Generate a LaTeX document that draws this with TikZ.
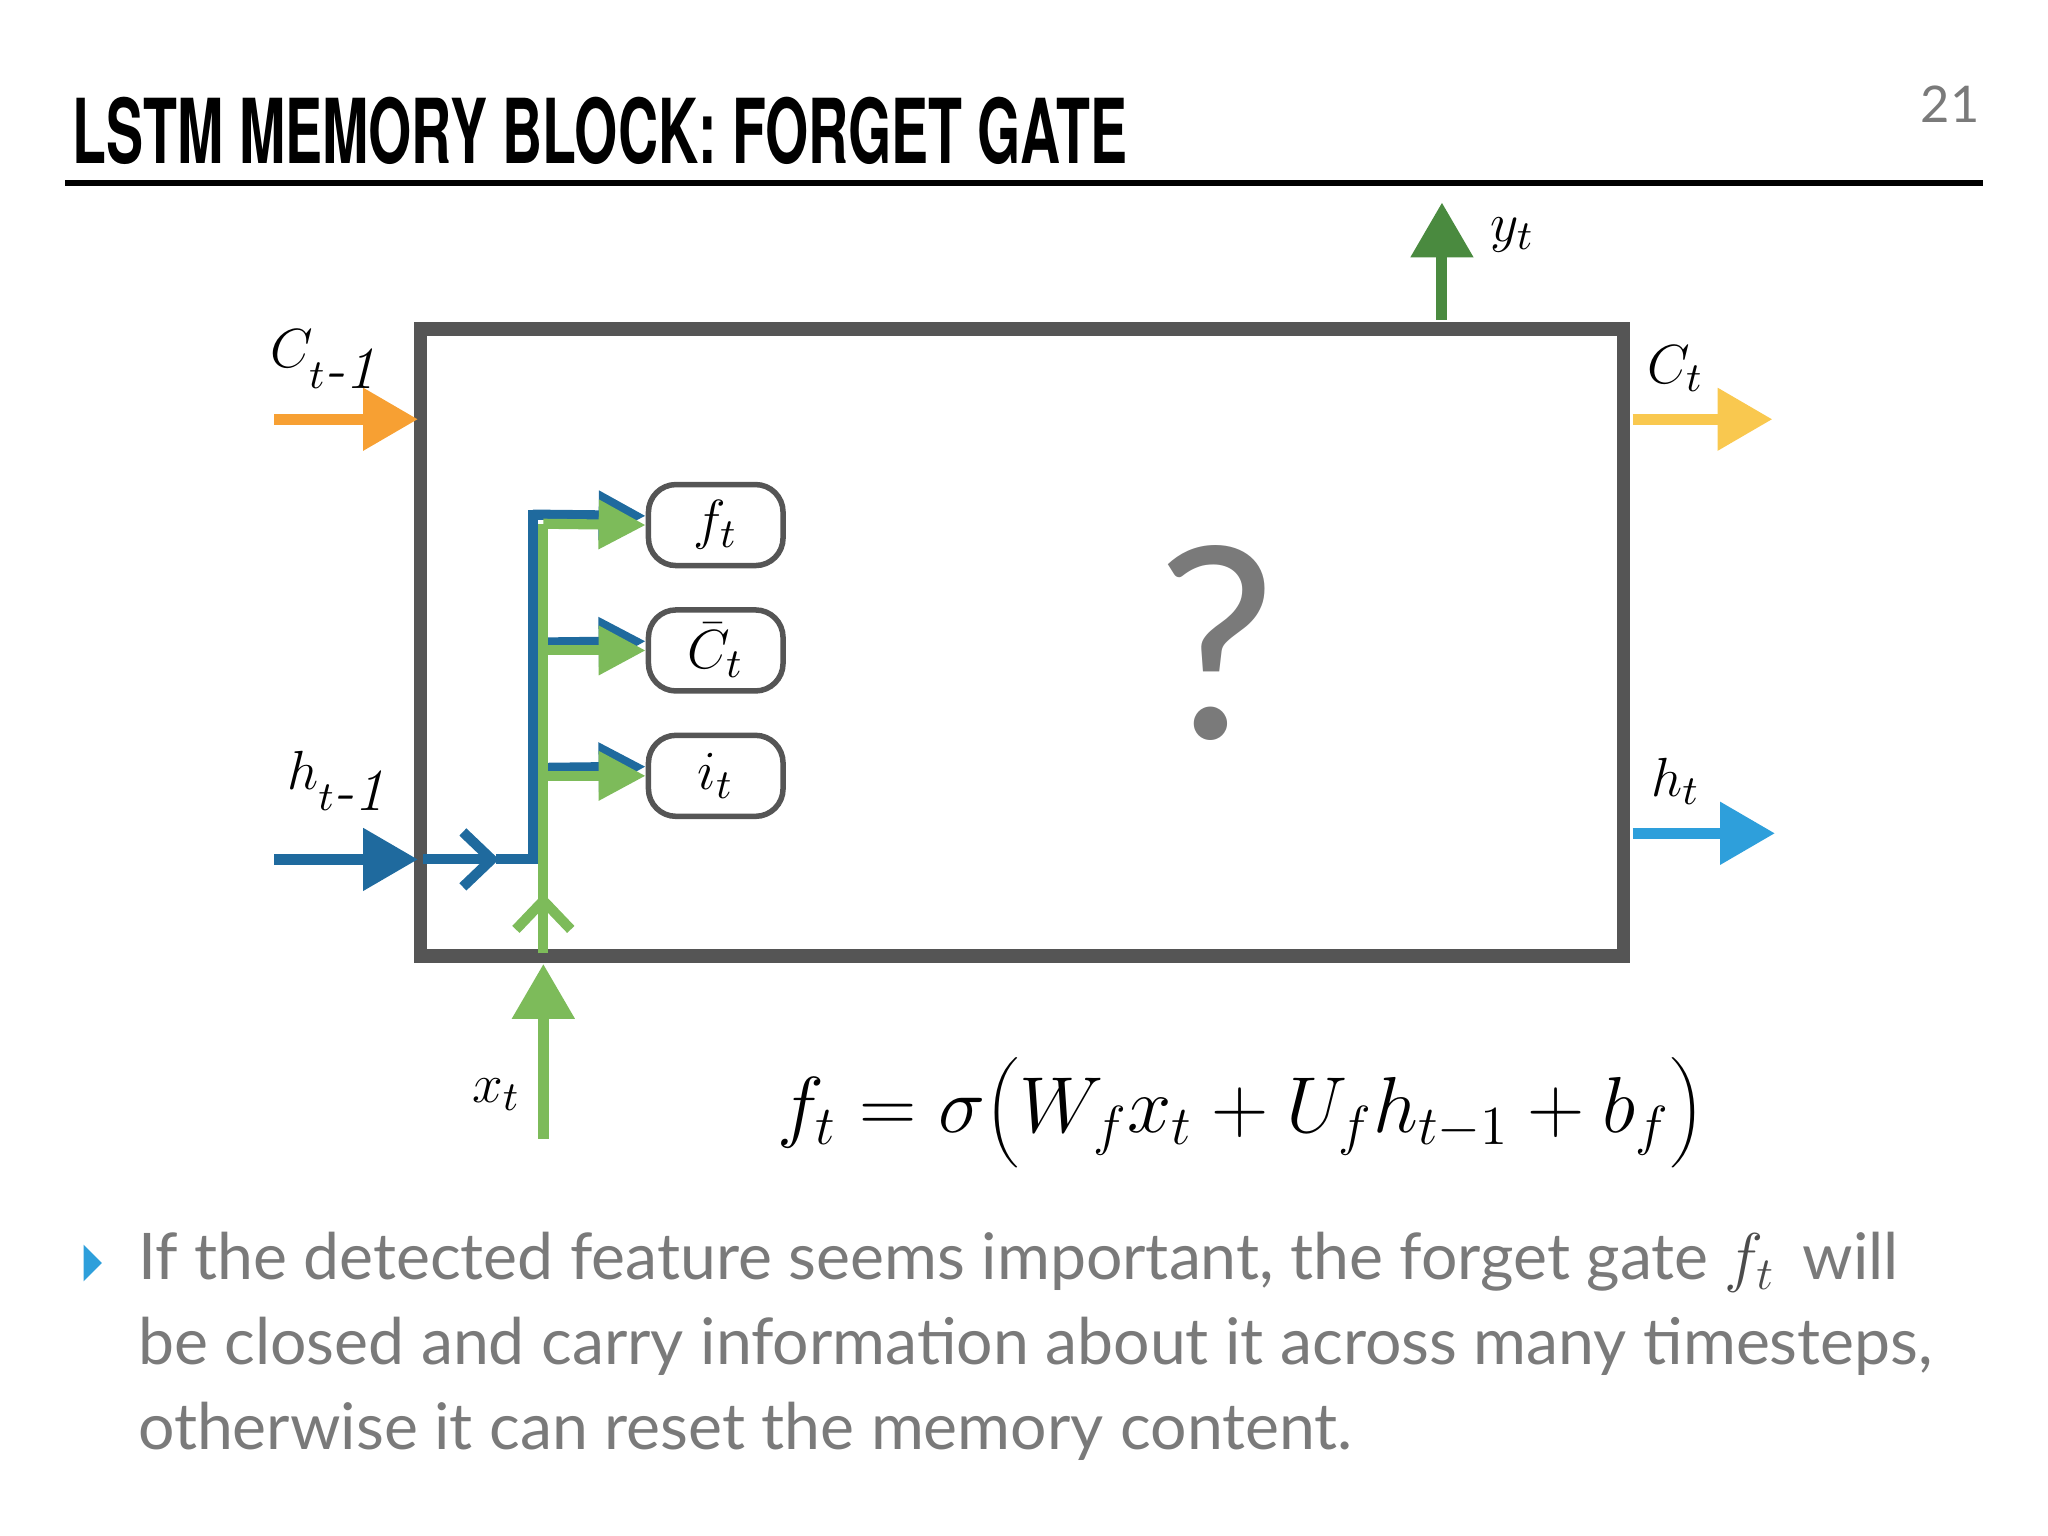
\documentclass[tikz,border=0pt]{standalone}
\usepackage{fontspec}
\newfontfamily\bodyfont{Lato}
\newfontfamily\titlefont{TeX Gyre Heros}[FakeStretch=0.62]
\usetikzlibrary{arrows.meta}
\definecolor{boxgray}{HTML}{555555}
\definecolor{txtgray}{HTML}{7A7A7A}
\definecolor{corange}{HTML}{F7A033}
\definecolor{cyellow}{HTML}{F9C84F}
\definecolor{cdblue}{HTML}{1F6A9E}
\definecolor{clblue}{HTML}{2E9FDB}
\definecolor{cgreen}{HTML}{7DBB5A}
\definecolor{cdgreen}{HTML}{4A8A3F}
\tikzset{
  flow/.style={line width=2.4pt,-{Triangle[length=0.42cm,width=0.46cm]}},
  inner/.style={line width=2.2pt,-{Triangle[length=0.36cm,width=0.36cm]}},
  barb/.style={line width=2.2pt,-{Straight Barb[length=0.22cm,width=0.42cm,line width=2.2pt]}},
  gate/.style={draw=boxgray,line width=1.2pt,rounded corners=6pt,minimum width=1.03cm,minimum height=0.62cm,inner sep=1pt,font=\fontsize{13}{13}\selectfont},
  lbl/.style={font=\fontsize{13}{13}\selectfont},
}
\begin{document}
\begin{tikzpicture}[x=0.01cm,y=-0.01cm]
    \useasboundingbox (0,0) rectangle (1568,1176);
    % title
    \node [anchor=base west,inner sep=0] (title) at (55,125)
        {\titlefont\bfseries\fontsize{19.5}{19.5}\selectfont LSTM MEMORY BLOCK: FORGET GATE};
    \draw [line width=1.3pt] (50,140) -- (1518,140);
    \node [text=txtgray,font=\bodyfont\fontsize{11}{11}\selectfont] (page) at (1493,80) {21};
    % memory block
    \draw [boxgray,line width=3pt] (322,252) rectangle (1243,732);
    \node [text=txtgray,font=\bodyfont\fontsize{58}{58}\selectfont] (ask) at (932,492) {?};
    % gates
    \node [gate] (ft) at (548,402) {$f_t$};
    \node [gate] (ct) at (548,498) {$\bar{C}_t$};
    \node [gate] (it) at (548,594) {$i_t$};
    % outer ports
    \coordinate (cin)  at (210,321);  \coordinate (cinb)  at (320,321);
    \coordinate (cout) at (1250,321); \coordinate (coutb) at (1357,321);
    \coordinate (hin)  at (210,658);  \coordinate (hinb)  at (320,658);
    \coordinate (hout) at (1250,638); \coordinate (houtb) at (1359,638);
    \coordinate (yin)  at (1104,245); \coordinate (youtb) at (1104,155);
    \coordinate (xin)  at (416,872);  \coordinate (xinb)  at (416,738);
    \draw [flow,corange] (cin) -- (cinb);
    \draw [flow,cyellow] (cout) -- (coutb);
    \draw [flow,cdblue] (hin) -- (hinb);
    \draw [flow,clblue] (hout) -- (houtb);
    \draw [flow,cdgreen] (yin) -- (youtb);
    \draw [flow,cgreen] (xin) -- (xinb);
    \node [lbl] (lcin) at (248,275) {$C_{t\textit{-1}}$};
    \node [lbl] (lcout) at (1283,282) {$C_t$};
    \node [lbl] (lhin) at (258,598) {$h_{t\textit{-1}}$};
    \node [lbl] (lhout) at (1283,598) {$h_t$};
    \node [lbl] (ly) at (1158,180) {$y_t$};
    \node [lbl] (lx) at (380,838) {$x_t$};
    % inner wiring
    \coordinate (hjoin) at (408,658);
    \draw [barb,cdblue] (324,658) -- (382,658);
    \draw [line width=2.2pt,cdblue] (380,658) -- (hjoin) -- (408,394) -- (430,394);
    \draw [inner,cdblue] (408,394) -- ([yshift=2pt]ft.west);
    \draw [inner,cdblue] (408,492) -- ([yshift=2pt]ct.west);
    \draw [inner,cdblue] (408,588) -- ([yshift=2pt]it.west);
    \draw [barb,cgreen] (416,730) -- (416,684);
    \draw [line width=2.2pt,cgreen] (416,690) -- (416,401);
    \draw [inner,cgreen] (416,401) -- (ft.west);
    \draw [inner,cgreen] (416,498) -- (ct.west);
    \draw [inner,cgreen] (416,594) -- (it.west);
    % equation
    \node [font=\fontsize{17.5}{17.5}\selectfont] (eq) at (950,850)
        {$f_t = \sigma\Bigg(W_f x_t + U_f h_{t-1} + b_f\Bigg)$};
    % bullet
    \fill [clblue] (64,953) -- (78,967) -- (64,981) -- cycle;
    \begin{scope}[every node/.style={anchor=base west,inner sep=0,text=txtgray,font=\bodyfont\fontsize{14}{14}\selectfont}]
        \node (l1) at (105,980) {If the detected feature seems important, the forget gate \textcolor{black!70}{$f_t$}\, will};
        \node (l2) at (105,1045) {be closed and carry information about it across many timesteps,};
        \node (l3) at (105,1110) {otherwise it can reset the memory content.};
    \end{scope}
\end{tikzpicture}
\end{document}
